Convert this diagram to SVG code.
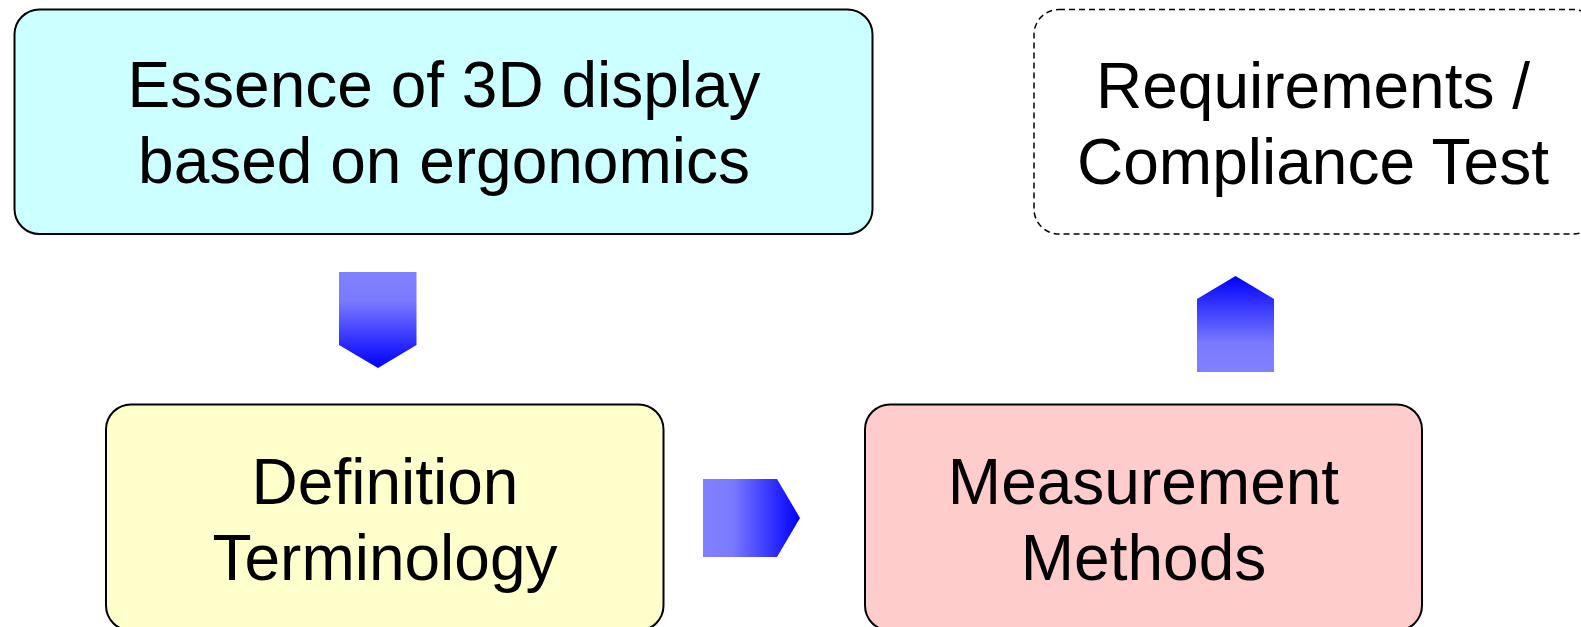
<svg xmlns="http://www.w3.org/2000/svg" width="1581" height="627" viewBox="0 0 1581 627">
<defs>
<linearGradient id="gDown" x1="0" y1="0" x2="0" y2="1"><stop offset="0" stop-color="#8080FF"/><stop offset="0.3" stop-color="#7A7AFF"/><stop offset="1" stop-color="#0000FF"/></linearGradient>
<linearGradient id="gUp" x1="0" y1="1" x2="0" y2="0"><stop offset="0" stop-color="#8080FF"/><stop offset="0.3" stop-color="#7A7AFF"/><stop offset="1" stop-color="#0000FF"/></linearGradient>
<linearGradient id="gRight" x1="0" y1="0" x2="1" y2="0"><stop offset="0" stop-color="#8080FF"/><stop offset="0.3" stop-color="#7A7AFF"/><stop offset="1" stop-color="#0000FF"/></linearGradient>
</defs>
<style>
.box{stroke:#000;stroke-width:2}
.dash{fill:#fff;stroke:#000;stroke-width:1.5;stroke-dasharray:6 4}
.t{font-family:"Liberation Sans",Arial,sans-serif;font-size:64px;fill:#000;text-anchor:middle}
</style>
<g id="essence">
<rect class="box" x="14.5" y="9.5" width="858" height="224.5" rx="25" fill="#CCFFFF"/>
<text class="t" x="444" y="107">Essence of 3D display</text>
<text class="t" x="444" y="183">based on ergonomics</text>
</g>
<g id="requirements">
<rect class="dash" x="1034" y="9.5" width="564" height="224.5" rx="25"/>
<text class="t" x="1313" y="108">Requirements /</text>
<text class="t" x="1313" y="184">Compliance Test</text>
</g>
<g id="definition">
<rect class="box" x="106" y="404.5" width="557.5" height="226" rx="25" fill="#FFFFCC"/>
<text class="t" x="385" y="504">Definition</text>
<text class="t" x="385" y="580">Terminology</text>
</g>
<g id="measurement">
<rect class="box" x="865" y="404.5" width="557" height="226" rx="25" fill="#FFCCCC"/>
<text class="t" x="1143.5" y="504">Measurement</text>
<text class="t" x="1143.5" y="580">Methods</text>
</g>
<g id="connectors">
<polygon points="339,272 416.5,272 416.5,345 378,368 339,345" fill="url(#gDown)"/>
<polygon points="1235.5,276 1274,299 1274,372 1197,372 1197,299" fill="url(#gUp)"/>
<polygon points="703,479 777,479 800,518 777,557 703,557" fill="url(#gRight)"/>
</g>
</svg>
